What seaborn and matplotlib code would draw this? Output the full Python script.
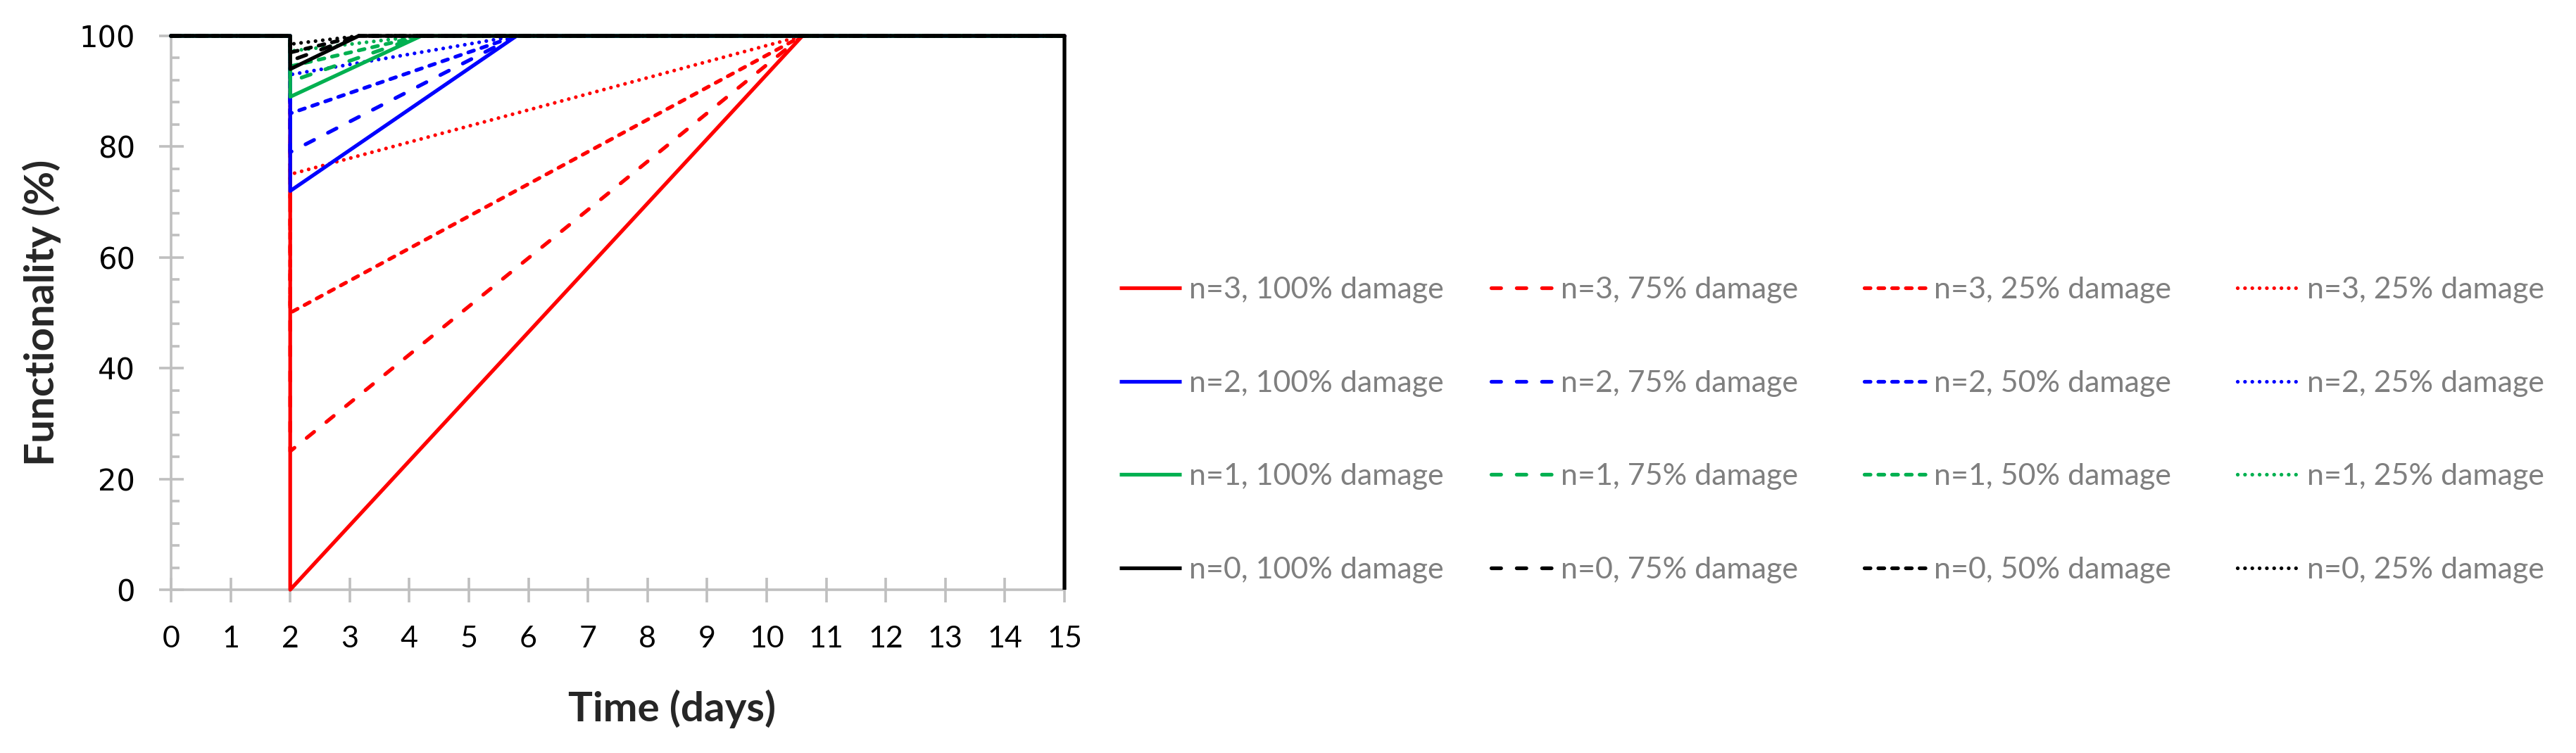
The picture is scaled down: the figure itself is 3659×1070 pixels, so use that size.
import pandas as pd
import seaborn as sns
import matplotlib.pyplot as plt
from matplotlib.lines import Line2D
from matplotlib.ticker import MultipleLocator

# === 1. Data ===
n_levels = [3, 2, 1, 0]
damage_levels = [100, 75, 50, 25]
fail_time = 2
end_time = 15

# functionality right after the event, per damage level (100/75/50/25 %)
start_n3 = [0, 25, 50, 75]
start_n2 = [72, 79, 86, 93]
start_n1 = [89, 91.75, 94.5, 97.25]
start_n0 = [94, 95.5, 97, 98.5]

# day at which functionality is back to 100 %
recovery_n3 = 10.6
recovery_n2 = 5.8
recovery_n1 = 4.2
recovery_n0 = 3.15

labels_n3 = ["n=3, 100% damage", "n=3, 75% damage", "n=3, 25% damage", "n=3, 25% damage"]
labels_n2 = ["n=2, 100% damage", "n=2, 75% damage", "n=2, 50% damage", "n=2, 25% damage"]
labels_n1 = ["n=1, 100% damage", "n=1, 75% damage", "n=1, 50% damage", "n=1, 25% damage"]
labels_n0 = ["n=0, 100% damage", "n=0, 75% damage", "n=0, 50% damage", "n=0, 25% damage"]

x_ticks = list(range(0, 16))
y_ticks = [0, 20, 40, 60, 80, 100]

# === 2. Build long table ===
starts = {3: start_n3, 2: start_n2, 1: start_n1, 0: start_n0}
recov = {3: recovery_n3, 2: recovery_n2, 1: recovery_n1, 0: recovery_n0}
labels = {3: labels_n3, 2: labels_n2, 1: labels_n1, 0: labels_n0}

rows = []
for n in n_levels:
    for dmg, v in zip(damage_levels, starts[n]):
        pts = [(0, 100), (fail_time, 100), (fail_time, v), (recov[n], 100), (end_time, 100)]
        if n == 0 and dmg == 100:
            pts.append((end_time, 0))
        for t, f in pts:
            rows.append({"n": n, "damage": dmg, "time": t, "func": f})
df = pd.DataFrame(rows)

# === 3. Styles ===
colors = {3: "#FF0000", 2: "#0000FF", 1: "#00B050", 0: "#000000"}
dash_styles = {100: None, 75: (2.6, 4.2), 50: (1.6, 2.1), 25: (0.01, 1.95)}
lw = 1.9
grey = "#BFBFBF"

sns.set_style("white", {"axes.edgecolor": grey})
plt.rcParams["font.family"] = ["Lato", "DejaVu Sans"]

fig = plt.figure(figsize=(18.295, 5.35), dpi=200)
ax = fig.add_axes([243 / 3659, 1 - 838 / 1070, (1512 - 243) / 3659, (838 - 51) / 1070])

for n in n_levels:
    for dmg in damage_levels:
        sub = df[(df["n"] == n) & (df["damage"] == dmg)]
        kw = dict(color=colors[n], linewidth=lw, clip_on=False, solid_capstyle="butt",
                  dash_capstyle="round", zorder=3)
        if dash_styles[dmg] is not None:
            kw["dashes"] = dash_styles[dmg]
        sns.lineplot(data=sub, x="time", y="func", sort=False, estimator=None, ax=ax, **kw)

# === 4. Axes ===
ax.set_xlim(0, 15)
ax.set_ylim(0, 100)
ax.set_xticks(x_ticks)
ax.set_yticks(y_ticks)
ax.yaxis.set_minor_locator(MultipleLocator(4))
for s in ["top", "right"]:
    ax.spines[s].set_visible(False)
for s in ["left", "bottom"]:
    ax.spines[s].set_color(grey)
    ax.spines[s].set_linewidth(1.3)
ax.tick_params(axis="both", which="both", bottom=True, left=True)
ax.tick_params(axis="both", which="major", direction="inout", length=12.6, width=1.3,
               color=grey, pad=12, labelsize=15.5, labelcolor="black")
ax.tick_params(axis="y", which="minor", direction="in", length=4.3, width=1.3, color=grey)
ax.tick_params(axis="x", which="minor", bottom=False)
for lab in ax.get_yticklabels():
    lab.set_fontfamily("DejaVu Sans")
    lab.set_fontsize(15)

ax.set_xlabel("Time (days)", fontsize=21, fontweight="bold")
ax.set_ylabel("Functionality (%)", fontsize=21, fontweight="bold")
ax.xaxis.set_label_coords(0.561, -0.180)
ax.yaxis.set_label_coords(-0.123, 0.5)

# === 5. Legend: one column per damage level ===
col_x = [1590, 2118, 2648, 3178]
for j, dmg in enumerate(damage_levels):
    handles, labs = [], []
    for n in n_levels:
        h = Line2D([], [], color=colors[n], linewidth=lw, solid_capstyle="butt",
                   dash_capstyle="round")
        if dash_styles[dmg] is not None:
            h.set_dashes(dash_styles[dmg])
        handles.append(h)
        labs.append(labels[n][j])
    fig.legend(handles, labs, loc="center left", bbox_to_anchor=(col_x[j] / 3659, 1 - 611 / 1070),
               frameon=False, fontsize=15.5, labelcolor="#7F7F7F", handlelength=2.05,
               handletextpad=0.25, labelspacing=2.2, borderpad=0, borderaxespad=0)

plt.savefig("out.png", dpi=200)
